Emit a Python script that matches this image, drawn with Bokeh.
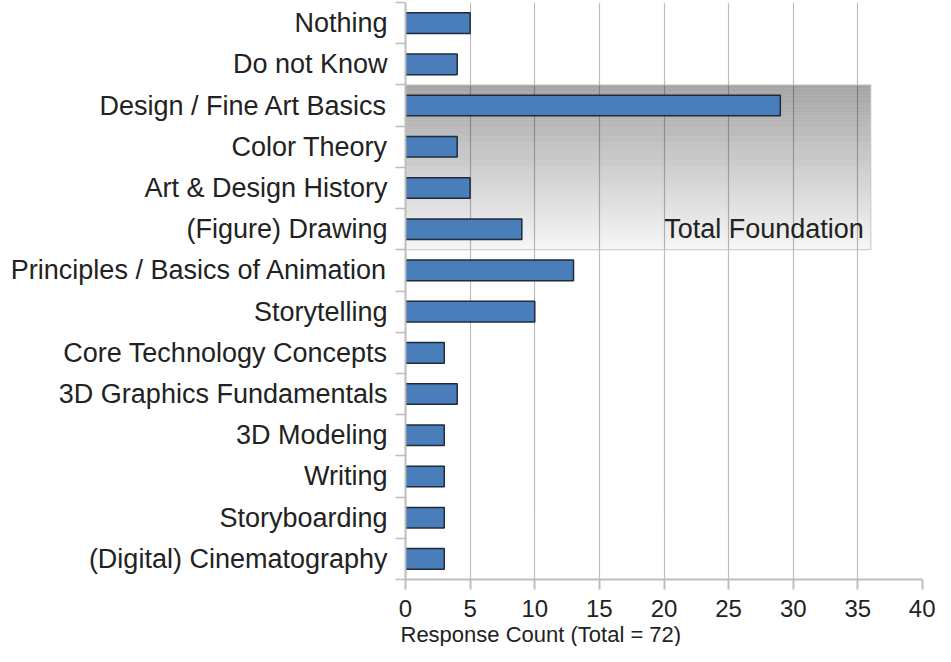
from bokeh.plotting import figure
from bokeh.models import FixedTicker, Label, Title, Range1d
from bokeh.embed import file_html
from bokeh.resources import INLINE

categories = [
    "Nothing", "Do not Know", "Design / Fine Art Basics", "Color Theory",
    "Art & Design History", "(Figure) Drawing", "Principles / Basics of Animation",
    "Storytelling", "Core Technology Concepts", "3D Graphics Fundamentals",
    "3D Modeling", "Writing", "Storyboarding", "(Digital) Cinematography",
]
counts = [5, 4, 29, 4, 5, 9, 13, 10, 3, 4, 3, 3, 3, 3]
x_ticks = [0, 5, 10, 15, 20, 25, 30, 35, 40]
x_label = "Response Count (Total = 72)"
foundation_first = "Design / Fine Art Basics"
foundation_last = "(Figure) Drawing"
foundation_extent = 36
foundation_label = "Total Foundation"

FONT = "Liberation Sans"
TXT = "#222222"
GRID = "#bdbdbd"

n = len(categories)
centers = [n - 1 - i + 0.5 for i in range(n)]
bounds = list(range(n + 1))

p = figure(width=935, height=646, output_backend="svg", toolbar_location=None,
           x_range=Range1d(0, 40), y_range=Range1d(0, n),
           min_border_left=405, min_border_right=13, min_border_top=2,
           min_border_bottom=10)
p.outline_line_color = None
p.background_fill_color = "white"

# gradient box
top = n - categories.index(foundation_first)
bot = n - 1 - categories.index(foundation_last)
steps = 48
h = (top - bot) / steps
for k in range(steps):
    frac = (k + 0.5) / steps
    a = 0.035 + 0.32 * frac
    p.quad(left=0, right=foundation_extent, bottom=bot + k * h, top=bot + (k + 1) * h,
           fill_color="black", fill_alpha=a, line_color=None)
p.quad(left=0, right=foundation_extent, bottom=bot, top=top,
       fill_color=None, line_color="#c4c4c4", line_width=1)

p.hbar(y=centers, right=counts, left=0, height=0.5,
       fill_color="#4a7ebb", line_color="#1f2b3a", line_width=1.5)

p.add_layout(Label(x=foundation_extent, y=bot, x_offset=-7, y_offset=6,
                   text=foundation_label, text_align="right", text_baseline="bottom",
                   text_font=FONT, text_font_size="27px", text_color=TXT))

# x axis
xa = p.xaxis[0]
xa.ticker = FixedTicker(ticks=x_ticks)
xa.axis_line_color = GRID
xa.axis_line_width = 2
xa.major_tick_line_color = GRID
xa.major_tick_line_width = 2
xa.major_tick_out = 10
xa.major_tick_in = 0
xa.minor_tick_line_color = None
xa.major_label_text_font = FONT
xa.major_label_text_font_size = "24px"
xa.major_label_text_color = TXT
xa.major_label_standoff = 10

# y axis
ya = p.yaxis[0]
ya.ticker = FixedTicker(ticks=centers, minor_ticks=bounds)
ya.major_label_overrides = {c: lab for c, lab in zip(centers, categories)}
ya.axis_line_color = GRID
ya.axis_line_width = 2
ya.major_tick_line_color = None
ya.major_tick_out = 0
ya.major_tick_in = 0
ya.minor_tick_line_color = GRID
ya.minor_tick_line_width = 1.5
ya.minor_tick_out = 10
ya.minor_tick_in = 0
ya.major_label_text_font = FONT
ya.major_label_text_font_size = "27px"
ya.major_label_text_color = TXT
ya.major_label_standoff = 8

p.xgrid.ticker = FixedTicker(ticks=x_ticks)
p.xgrid.grid_line_color = GRID
p.xgrid.grid_line_width = 1.2
p.ygrid.grid_line_color = None

p.add_layout(Title(text=x_label, align="left", offset=-5, text_font=FONT,
                   text_font_size="22px", text_font_style="normal", text_color=TXT,
                   standoff=0), "below")

open("out.html", "w").write(file_html(p, INLINE))
